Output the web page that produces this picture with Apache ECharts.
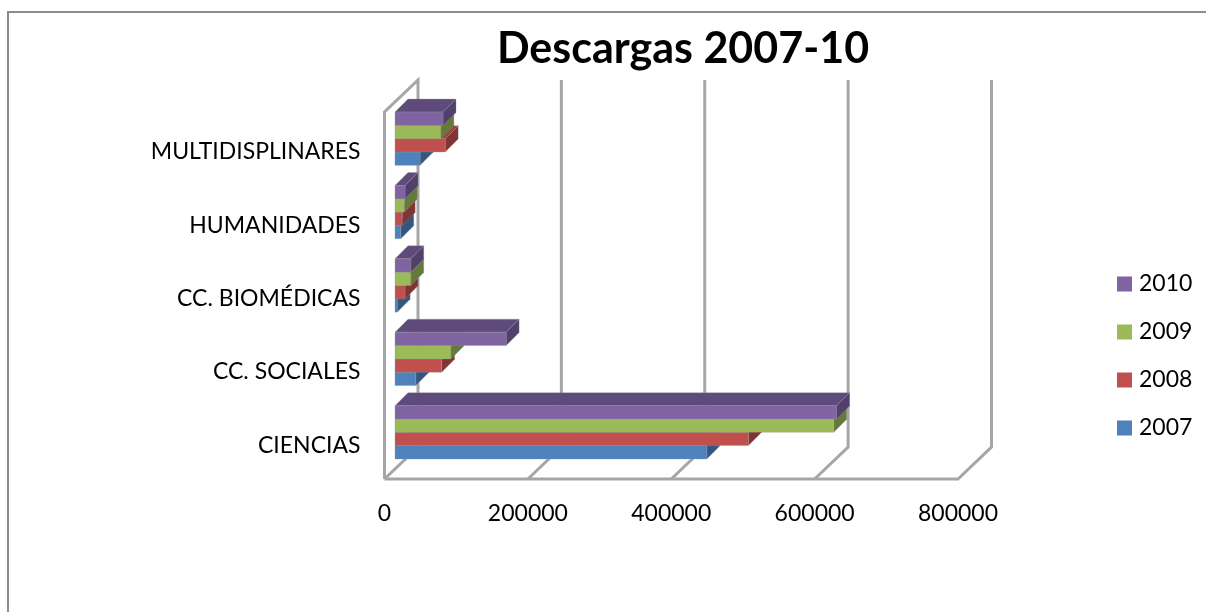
<!DOCTYPE html>
<html><head><meta charset="utf-8">
<style>html,body{margin:0;padding:0;background:#fff}#c{width:1206px;height:612px}</style>
<script src="https://cdn.jsdelivr.net/npm/echarts@6/dist/echarts.min.js"></script>
</head><body><div id="c"></div>
<script>
const categories = ['CIENCIAS','CC. SOCIALES','CC. BIOMÉDICAS','HUMANIDADES','MULTIDISPLINARES'];
const years = ['2007','2008','2009','2010'];
const v2007 = [435000, 29000, 3000, 8000, 35000];
const v2008 = [493000, 65000, 14000, 10000, 70000];
const v2009 = [612000, 78000, 22000, 13000, 64000];
const v2010 = [616000, 155000, 22000, 14000, 67000];
const valueTicks = [0, 200000, 400000, 600000, 800000];

const seriesValues = [v2007, v2008, v2009, v2010];
const front = ['#4f81bd','#c0504d','#9bbb59','#8064a2'];
const topFace = ['#3f6797','#9a403e','#7c9647','#5f4b7b'];
const sideFace = ['#345680','#7f3534','#66793a','#51406a'];

const wallDX = 33.5, wallDY = 32;     // full floor depth on screen
const barOffX = 10.5, barOffY = 10;   // front of the bars from the front of the floor
const barDepth = 13;
const barShare = 0.1815;

function poly(points, fill){
  return {type:'polygon', shape:{points}, style:{fill, stroke:'rgba(150,150,150,0.55)', lineWidth:0.6}};
}
function barSeries(i){
  return {
    name: years[i], type:'custom', coordinateSystem:'cartesian2d', z:5,
    itemStyle:{color:front[i]},
    data: categories.map((c,k)=>[seriesValues[i][k], c]),
    encode:{x:0,y:1},
    renderItem(params, api){
      const end = api.coord([api.value(0), api.value(1)]);
      const start = api.coord([0, api.value(1)]);
      const band = api.size([0,1])[1];
      const h = band*barShare;
      const x0 = start[0]+barOffX, x1 = end[0]+barOffX;
      const cy = start[1]-barOffY;
      const yb = cy + h*(2-i), yt = yb - h;
      const d = barDepth;
      return {type:'group', children:[
        poly([[x0,yt],[x0+d,yt-d],[x1+d,yt-d],[x1,yt]], topFace[i]),
        poly([[x1,yt],[x1+d,yt-d],[x1+d,yb-d],[x1,yb]], sideFace[i]),
        poly([[x0,yt],[x1,yt],[x1,yb],[x0,yb]], front[i])
      ]};
    }
  };
}
const wallSeries = {
  type:'custom', coordinateSystem:'cartesian2d', z:1, silent:true, legendHoverLink:false,
  data: valueTicks.map(v=>[v, categories[0]]),
  encode:{x:0,y:1},
  renderItem(params, api){
    const p = api.coord([api.value(0), categories[0]]);
    const band = api.size([0,1])[1];
    const x = p[0], yBot = p[1]+band/2, yTop = yBot-band*categories.length;
    const pts = [[x,yBot],[x+wallDX,yBot-wallDY],[x+wallDX,yTop-wallDY]];
    if(params.dataIndex===0){ pts.push([x,yTop],[x,yBot]); }
    if(params.dataIndex===valueTicks.length-1){
      pts.unshift([api.coord([0, categories[0]])[0], yBot]);
    }
    return {type:'polyline', shape:{points:pts}, style:{fill:null, stroke:'#a6a6a6', lineWidth:3}};
  }
};
const chart = echarts.init(document.getElementById('c'), null, {renderer:'canvas'});
const font = 'Lato, Carlito, Calibri, sans-serif';
chart.setOption({
  animation:false,
  backgroundColor:'#fff',
  title:{text:'Descargas 2007-10', left:678, textAlign:'center', top:23,
    textStyle:{fontFamily:font,fontWeight:'bold',fontSize:43,color:'#000'}},
  legend:{orient:'vertical', left:1112, top:264, itemWidth:15, itemHeight:15, itemGap:18,
    icon:'rect', data:years.slice().reverse(), selectedMode:false,
    textStyle:{fontFamily:font,fontSize:23,color:'#000',lineHeight:30,padding:[0,0,0,2]}},
  grid:{left:384.5, right:1206-958, top:112, bottom:612-479, containLabel:false},
  xAxis:{type:'value', min:0, max:800000, interval:200000,
    axisLine:{show:false}, axisTick:{show:false}, splitLine:{show:false},
    axisLabel:{fontFamily:font,fontSize:23,color:'#000',margin:23,showMinLabel:true,showMaxLabel:true,
      formatter:v=>String(v)}},
  yAxis:{type:'category', data:categories,
    axisLine:{show:false}, axisTick:{show:false}, splitLine:{show:false},
    axisLabel:{fontFamily:font,fontSize:23,color:'#000',margin:24,verticalAlign:'top',lineHeight:6}},
  series:[wallSeries].concat(years.map((y,i)=>barSeries(i))),
  graphic:[{type:'polyline', silent:true, shape:{points:[[8,612],[8,12],[1206,12]]},
    style:{fill:null,stroke:'#8c8c8c',lineWidth:2}}]
});
</script></body></html>
